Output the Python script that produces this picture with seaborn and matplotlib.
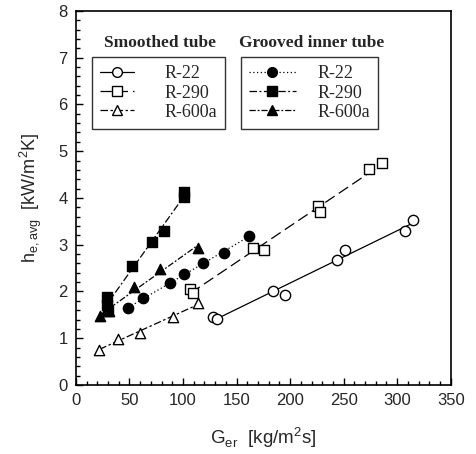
import numpy as np
import pandas as pd
import matplotlib
matplotlib.use("Agg")
import matplotlib.pyplot as plt
from matplotlib.lines import Line2D
from matplotlib.ticker import MultipleLocator
import seaborn as sns

# values
sm_r22_x = [128, 132, 184, 195, 244, 251, 307, 315]
sm_r22_y = [1.46, 1.41, 2.02, 1.92, 2.68, 2.88, 3.29, 3.53]
sm_r290_x = [107, 109, 165, 176, 226, 228, 274, 286]
sm_r290_y = [2.06, 1.96, 2.93, 2.89, 3.82, 3.70, 4.62, 4.75]
sm_r600a_x = [22, 39, 60, 91, 114]
sm_r600a_y = [0.75, 0.99, 1.12, 1.45, 1.75]

gr_r22_x = [49, 63, 88, 101, 119, 138, 162]
gr_r22_y = [1.64, 1.86, 2.18, 2.38, 2.60, 2.83, 3.19]
gr_r290_x = [29, 29, 30, 52, 71, 82, 101, 101]
gr_r290_y = [1.89, 1.72, 1.58, 2.55, 3.06, 3.30, 4.03, 4.12]
gr_r600a_x = [23, 31, 54, 79, 114]
gr_r600a_y = [1.48, 1.58, 2.09, 2.48, 2.93]

refrigerants = ["R-22", "R-290", "R-600a"]

sns.set_style("ticks")
plt.rcParams["font.family"] = ["Liberation Sans", "DejaVu Sans"]
plt.rcParams["mathtext.fontset"] = "custom"
plt.rcParams["mathtext.rm"] = "Liberation Sans"

fig = plt.figure(figsize=(4.77, 4.54), dpi=100)
ax = fig.add_axes([0.159, 0.152, 0.786, 0.824])

# (x, y, marker, filled, dashes)
series = [
    (sm_r22_x, sm_r22_y, "o", False, (None, None)),
    (sm_r290_x, sm_r290_y, "s", False, (9, 4)),
    (sm_r600a_x, sm_r600a_y, "^", False, (6, 2, 2, 2)),
    (gr_r22_x, gr_r22_y, "o", True, (1, 2)),
    (gr_r290_x, gr_r290_y, "s", True, (6, 2, 1.5, 2)),
    (gr_r600a_x, gr_r600a_y, "^", True, (5, 1.5, 1.5, 1.5)),
]

handles = []
for xs, ys, mk, filled, dash in series:
    df = pd.DataFrame({"G": xs, "h": ys})
    line_kws = {"color": "black", "lw": 0.9}
    if dash[0] is not None:
        line_kws["dashes"] = dash
    else:
        line_kws["ls"] = "-"
    sns.regplot(data=df, x="G", y="h", ax=ax, ci=None, scatter=False,
                truncate=True, line_kws=line_kws)
    sns.scatterplot(data=df, x="G", y="h", ax=ax, marker=mk, s=55,
                    facecolor="black" if filled else "white",
                    edgecolor="black", linewidth=1.0, zorder=3)
    h = Line2D([], [], color="black", lw=0.9, marker=mk, markersize=7,
               markerfacecolor="black" if filled else "white",
               markeredgecolor="black")
    if dash[0] is not None:
        h.set_dashes(dash)
    handles.append(h)

ax.set_xlim(0, 350)
ax.set_ylim(0, 8)
ax.xaxis.set_major_locator(MultipleLocator(50))
ax.xaxis.set_minor_locator(MultipleLocator(10))
ax.yaxis.set_major_locator(MultipleLocator(1))
ax.yaxis.set_minor_locator(MultipleLocator(0.2))
ax.tick_params(which="both", direction="in", top=False, right=False,
               color="black", width=1.0)
ax.tick_params(which="major", length=5, labelsize=12, pad=6)
ax.tick_params(which="minor", length=3)
for sp in ax.spines.values():
    sp.set_visible(True)
    sp.set_color("black")
    sp.set_linewidth(1.2)

ax.set_xlabel(r"G$_{\mathregular{er}}$  [kg/m$^{\mathregular{2}}$s]", fontsize=13.5, labelpad=12)
ax.set_ylabel(r"h$_{\mathregular{e,avg}}$  [kW/m$^{\mathregular{2}}$K]", fontsize=13, labelpad=10)

serif = {"family": "Liberation Serif", "size": 13}
leg1 = ax.legend(handles[:3], refrigerants, loc="upper left",
                 bbox_to_anchor=(0.042, 0.876), prop=serif, frameon=True,
                 fancybox=False, edgecolor="black", handlelength=1.9,
                 borderpad=0.45, labelspacing=0.12, handletextpad=1.7,
                 borderaxespad=0)
leg1.get_frame().set_linewidth(1.0)
ax.add_artist(leg1)
leg2 = ax.legend(handles[3:], refrigerants, loc="upper left",
                 bbox_to_anchor=(0.44, 0.876), prop=serif, frameon=True,
                 fancybox=False, edgecolor="black", handlelength=2.6,
                 borderpad=0.45, labelspacing=0.12, handletextpad=1.2,
                 borderaxespad=0)
leg2.get_frame().set_linewidth(1.0)

ax.text(0.224, 0.915, "Smoothed tube", transform=ax.transAxes, ha="center",
        va="center", family="Liberation Serif", weight="bold", fontsize=12.5)
ax.text(0.628, 0.915, "Grooved inner tube", transform=ax.transAxes, ha="center",
        va="center", family="Liberation Serif", weight="bold", fontsize=12.5)

fig.savefig("out.png", dpi=100)
